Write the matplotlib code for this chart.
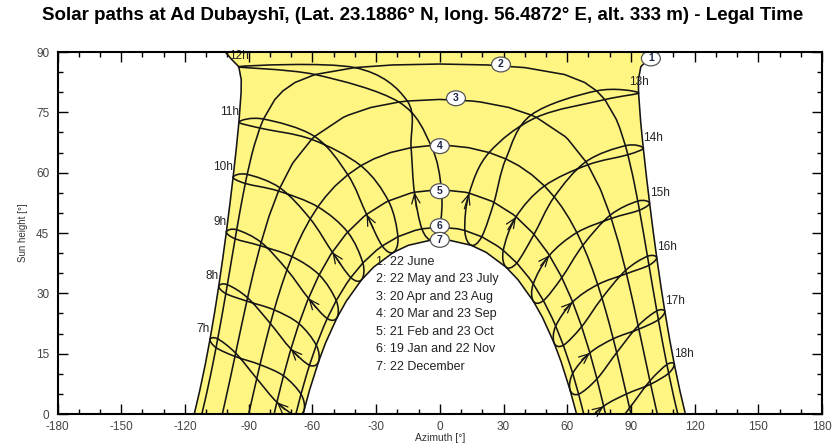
import numpy as np
import matplotlib.pyplot as plt
from matplotlib.patches import Ellipse, PathPatch
from matplotlib.path import Path
from matplotlib.ticker import MultipleLocator

plt.rcParams['font.family'] = ['Liberation Sans', 'DejaVu Sans']
plt.rcParams['axes.unicode_minus'] = False

title = "Solar paths at Ad Dubayshī, (Lat. 23.1886° N, long. 56.4872° E, alt. 333 m) - Legal Time"

legend_lines = ["1: 22 June", "2: 22 May and 23 July", "3: 20 Apr and 23 Aug",
                "4: 20 Mar and 23 Sep", "5: 21 Feb and 23 Oct", "6: 19 Jan and 22 Nov",
                "7: 22 December"]

# legal hours of the hour loops
hours = [7, 8, 9, 10, 11, 12, 13, 14, 15, 16, 17, 18]

# sun position (azimuth, height) at each legal hour for the twelve dates
dec_az = [-63.87, -57.09, -48.34, -36.83, -21.86, -3.86, 14.79, 31.15, 44.01, 53.82, 61.30, 67.2]
dec_alt = [1.02, 13.03, 24.02, 33.38, 40.18, 43.27, 41.95, 36.53, 28.08, 17.66, 6.02, -6.4]
jan_az = [-67.92, -61.37, -53.01, -41.91, -27.10, -8.44, 11.78, 29.88, 44.00, 54.57, 62.58, 68.9]
jan_alt = [-0.33, 12.14, 23.74, 33.93, 41.79, 46.04, 45.63, 40.68, 32.35, 21.87, 10.10, -2.48]
feb_az = [-76.71, -70.11, -61.84, -50.61, -34.49, -11.98, 13.85, 35.90, 51.59, 62.54, 70.65, 77.16]
feb_alt = [2.94, 16.16, 28.76, 40.24, 49.63, 55.14, 54.91, 49.03, 39.44, 27.85, 15.19, 1.94]
mar_az = [-86.19, -79.79, -71.96, -61.02, -43.33, -13.52, 23.22, 49.29, 64.54, 74.36, 81.66, 87.86]
mar_alt = [8.81, 22.49, 35.86, 48.52, 59.48, 66.22, 65.01, 56.70, 45.10, 32.18, 18.70, 4.97]
apr_az = [-96.13, -90.52, -84.12, -75.29, -58.95, -15.31, 45.46, 69.71, 80.74, 87.90, 93.73, 99.27]
apr_alt = [15.14, 28.90, 42.67, 56.23, 69.00, 77.81, 73.75, 61.95, 48.61, 34.89, 21.11, 7.42]
may_az = [-104.58, -100.04, -95.64, -90.71, -83.04, -40.08, 77.72, 88.55, 94.00, 98.49, 102.93, 107.76]
may_alt = [18.68, 32.15, 45.81, 59.57, 73.33, 86.12, 78.16, 64.46, 50.68, 36.98, 23.43, 10.14]
jun_az = [-108.22, -104.10, -100.51, -97.33, -94.59, -94.67, 93.58, 95.81, 98.79, 102.15, 105.96, 110.41]
jun_alt = [18.55, 31.79, 45.26, 58.89, 72.60, 86.36, 79.87, 66.12, 52.44, 38.89, 25.51, 12.41]
jul_az = [-105.36, -100.76, -96.37, -91.60, -84.75, -58.76, 73.85, 87.41, 93.22, 97.78, 102.19, 106.93]
jul_alt = [16.51, 29.94, 43.57, 57.32, 71.09, 84.40, 80.34, 66.71, 52.93, 39.21, 25.63, 12.29]
aug_az = [-96.46, -90.87, -84.55, -75.95, -60.37, -19.28, 42.97, 68.78, 80.23, 87.52, 93.40, 98.93]
aug_alt = [14.32, 28.07, 41.84, 55.43, 68.28, 77.56, 74.33, 62.72, 49.43, 35.72, 21.94, 8.23]
sep_az = [-84.66, -78.00, -69.60, -57.42, -37.20, -4.16, 31.09, 53.89, 67.36, 76.36, 83.29, 89.35]
sep_alt = [12.26, 25.89, 39.13, 51.50, 61.73, 66.75, 63.42, 53.98, 41.94, 28.83, 15.26, 1.51]
oct_az = [-73.61, -66.31, -56.79, -43.38, -24.18, 0.77, 25.50, 44.35, 57.44, 66.79, 73.99, 80.0]
oct_alt = [9.50, 22.46, 34.60, 45.21, 52.96, 55.82, 52.62, 44.65, 33.91, 21.72, 8.73, -4.71]
nov_az = [-65.37, -58.16, -48.78, -36.25, -19.74, 0.0, 19.74, 36.25, 48.78, 58.16, 65.37, 71.2]
nov_alt = [4.94, 17.10, 28.20, 37.55, 44.07, 46.46, 44.07, 37.55, 28.20, 17.10, 4.94, -7.87]

# daily sun paths 1..7 (azimuth, height), sunrise to sunset
p1_az = [-115.64, -113.11, -110.41, -108.22, -105.96, -104.10, -102.15, -100.51, -98.79, -97.33,
         -95.81, -94.59, -93.58, -93.5, -94.67, -98.06, -101.0, np.nan,
         101.0, 98.06, 94.67, 93.5, 93.58, 94.59, 95.81, 97.33,
         98.79, 100.51, 102.15, 104.10, 105.96, 108.22, 110.41, 113.11, 115.64]
p1_alt = [0.0, 5.65, 12.41, 18.55, 25.51, 31.79, 38.89, 45.26, 52.44, 58.89,
          66.12, 72.60, 79.87, 83.11, 86.36, 88.17, 90.0, np.nan,
          90.0, 88.17, 86.36, 83.11, 79.87, 72.60, 66.12, 58.89,
          52.44, 45.26, 38.89, 31.79, 25.51, 18.55, 12.41, 5.65, 0.0]
p2_az = [-112.06, -110.54, -109.64, -107.76, -106.93, -105.36, -104.58, -102.93, -102.19, -100.76,
         -100.04, -98.49, -97.78, -96.37, -95.64, -94.00, -93.22, -91.60, -90.71, -88.55,
         -87.41, -84.75, -83.04, -77.72, -73.85, -68.2, -58.76, -40.08, -22.24, 0.0,
         22.24, 40.08, 58.76, 68.2, 73.85, 77.72, 83.04, 84.75, 87.41, 88.55,
         90.71, 91.60, 93.22, 94.00, 95.64, 96.37, 97.78, 98.49, 100.04, 100.76,
         102.19, 102.93, 104.58, 105.36, 106.93, 107.76, 109.64, 110.54, 112.06]
p2_alt = [0.0, 3.39, 5.51, 10.14, 12.29, 16.51, 18.68, 23.43, 25.63, 29.94,
          32.15, 36.98, 39.21, 43.57, 45.81, 50.68, 52.93, 57.32, 59.57, 64.46,
          66.71, 71.09, 73.33, 78.16, 80.34, 82.42, 84.40, 86.12, 86.78, 87.01,
          86.78, 86.12, 84.40, 82.42, 80.34, 78.16, 73.33, 71.09, 66.71, 64.46,
          59.57, 57.32, 52.93, 50.68, 45.81, 43.57, 39.21, 36.98, 32.15, 29.94,
          25.63, 23.43, 18.68, 16.51, 12.29, 10.14, 5.51, 3.39, 0.0]
p3_az = [-102.42, -102.11, -101.75, -99.27, -98.93, -96.46, -96.13, -93.73, -93.40, -90.87,
         -90.52, -87.90, -87.52, -84.55, -84.12, -80.74, -80.23, -75.95, -75.29, -69.71,
         -68.78, -60.37, -58.95, -45.46, -42.97, -32.48, -19.28, -15.31, 0.0,
         15.31, 19.28, 32.48, 42.97, 45.46, 58.95, 60.37, 68.78, 69.71, 75.29,
         75.95, 80.23, 80.74, 84.12, 84.55, 87.52, 87.90, 90.52, 90.87, 93.40,
         93.73, 96.13, 96.46, 98.93, 99.27, 101.75, 102.11, 102.42]
p3_alt = [0.0, 0.72, 1.52, 7.42, 8.23, 14.32, 15.14, 21.11, 21.94, 28.07,
          28.90, 34.89, 35.72, 41.84, 42.67, 48.61, 49.43, 55.43, 56.23, 61.95,
          62.72, 68.28, 69.00, 73.75, 74.33, 76.21, 77.56, 77.81, 78.21,
          77.81, 77.56, 76.21, 74.33, 73.75, 69.00, 68.28, 62.72, 61.95, 56.23,
          55.43, 49.43, 48.61, 42.67, 41.84, 35.72, 34.89, 28.90, 28.07, 21.94,
          21.11, 15.14, 14.32, 8.23, 7.42, 1.52, 0.72, 0.0]
p4_az = [-90.0, -89.35, -87.86, -86.19, -84.66, -83.29, -81.66, -79.79, -78.00, -76.36,
         -74.36, -71.96, -69.60, -67.36, -64.54, -61.02, -57.42, -53.89, -49.29, -43.33,
         -37.20, -31.09, -23.22, -13.52, -4.16, 0.0, 4.16, 13.52, 23.22, 31.09,
         37.20, 43.33, 49.29, 53.89, 57.42, 61.02, 64.54, 67.36, 69.60, 71.96,
         74.36, 76.36, 78.00, 79.79, 81.66, 83.29, 84.66, 86.19, 87.86, 89.35, 90.0]
p4_alt = [0.0, 1.51, 4.97, 8.81, 12.26, 15.26, 18.70, 22.49, 25.89, 28.83,
          32.18, 35.86, 39.13, 41.94, 45.10, 48.52, 51.50, 53.98, 56.70, 59.48,
          61.73, 63.42, 65.01, 66.22, 66.75, 66.81, 66.75, 66.22, 65.01, 63.42,
          61.73, 59.48, 56.70, 53.98, 51.50, 48.52, 45.10, 41.94, 39.13, 35.86,
          32.18, 28.83, 25.89, 22.49, 18.70, 15.26, 12.26, 8.81, 4.97, 1.51, 0.0]
p5_az = [-78.02, -77.16, -76.71, -73.99, -73.61, -70.65, -70.11, -66.79, -66.31, -62.54,
         -61.84, -57.44, -56.79, -51.59, -50.61, -44.35, -43.38, -35.90, -34.49, -25.50,
         -24.18, -13.85, -11.98, 0.0, 11.98, 13.85, 24.18, 25.50, 34.49, 35.90,
         43.38, 44.35, 50.61, 51.59, 56.79, 57.44, 61.84, 62.54, 66.31, 66.79,
         70.11, 70.65, 73.61, 73.99, 76.71, 77.16, 78.02]
p5_alt = [0.0, 1.94, 2.94, 8.73, 9.50, 15.19, 16.16, 21.72, 22.46, 27.85,
          28.76, 33.91, 34.60, 39.44, 40.24, 44.65, 45.21, 49.03, 49.63, 52.62,
          52.96, 54.91, 55.14, 55.81, 55.14, 54.91, 52.96, 52.62, 49.63, 49.03,
          45.21, 44.65, 40.24, 39.44, 34.60, 33.91, 28.76, 27.85, 22.46, 21.72,
          16.16, 15.19, 9.50, 8.73, 2.94, 1.94, 0.0]
p6_az = [-67.77, -65.37, -62.58, -61.37, -58.16, -54.57, -53.01, -48.78, -44.00, -41.91,
         -36.25, -29.88, -27.10, -19.74, -11.78, -8.44, 0.0, 8.44, 11.78, 19.74,
         27.10, 29.88, 36.25, 41.91, 44.00, 48.78, 53.01, 54.57, 58.16, 61.37,
         62.58, 65.37, 67.77]
p6_alt = [0.0, 4.94, 10.10, 12.14, 17.10, 21.87, 23.74, 28.20, 32.35, 33.93,
          37.55, 40.68, 41.79, 44.07, 45.63, 46.04, 46.46, 46.04, 45.63, 44.07,
          41.79, 40.68, 37.55, 33.93, 32.35, 28.20, 23.74, 21.87, 17.10, 12.14,
          10.10, 4.94, 0.0]
p7_az = [-64.36, -63.87, -61.30, -57.09, -53.82, -48.34, -44.01, -36.83, -31.15, -21.86,
         -14.79, -3.86, 0.0, 3.86, 14.79, 21.86, 31.15, 36.83, 44.01, 48.34,
         53.82, 57.09, 61.30, 63.87, 64.36]
p7_alt = [0.0, 1.02, 6.02, 13.03, 17.66, 24.02, 28.08, 33.38, 36.53, 40.18,
          41.95, 43.27, 43.37, 43.27, 41.95, 40.18, 36.53, 33.38, 28.08, 24.02,
          17.66, 13.03, 6.02, 1.02, 0.0]

YELLOW = '#fff583'
INK = '#151515'
LW = 1.15


def smooth_loop(xs, ys):
    # closed curve through the monthly points (Catmull-Rom as cubic Bezier)
    pts = np.column_stack([xs, ys])
    n = len(pts)
    verts = [pts[0]]
    codes = [Path.MOVETO]
    for j in range(n):
        p0, p1, p2, p3 = pts[j - 1], pts[j], pts[(j + 1) % n], pts[(j + 2) % n]
        verts += [p1 + (p2 - p0) / 6, p2 - (p3 - p1) / 6, p2]
        codes += [Path.CURVE4] * 3
    return Path(verts, codes)


fig = plt.figure(figsize=(8.34, 4.46), dpi=100)
ax = fig.add_axes([0.069, 0.0717, 0.9167, 0.8117])

# yellow band between the June and December paths
a1 = np.array(p1_az)
h1 = np.array(p1_alt)
keep = ~np.isnan(a1)
band_az = np.concatenate([a1[keep], np.array(p7_az)[::-1]])
band_alt = np.concatenate([h1[keep], np.array(p7_alt)[::-1]])
ax.fill(band_az, band_alt, color=YELLOW, lw=0, zorder=1)

paths = [(p1_az, p1_alt), (p2_az, p2_alt), (p3_az, p3_alt), (p4_az, p4_alt),
         (p5_az, p5_alt), (p6_az, p6_alt), (p7_az, p7_alt)]
for az, alt in paths:
    ax.plot(az, alt, color=INK, lw=LW, zorder=3)

year = [(dec_az, dec_alt), (jan_az, jan_alt), (feb_az, feb_alt), (mar_az, mar_alt),
        (apr_az, apr_alt), (may_az, may_alt), (jun_az, jun_alt), (jul_az, jul_alt),
        (aug_az, aug_alt), (sep_az, sep_alt), (oct_az, oct_alt), (nov_az, nov_alt)]

for i, h in enumerate(hours):
    loop_az = [m[0][i] for m in year]
    loop_alt = [m[1][i] for m in year]
    ax.add_patch(PathPatch(smooth_loop(loop_az, loop_alt), fill=False,
                           edgecolor=INK, lw=LW, zorder=3))

    # direction arrow at the February point
    start = (feb_az[i] - 0.2 * (mar_az[i] - jan_az[i]),
             feb_alt[i] - 0.2 * (mar_alt[i] - jan_alt[i]))
    ax.annotate('', xy=(feb_az[i], feb_alt[i]), xytext=start,
                arrowprops=dict(arrowstyle='->,head_length=0.7,head_width=0.3',
                                color=INK, lw=0.9, shrinkA=0, shrinkB=0),
                zorder=4)

    if h <= 11:
        ha = 'right'
    elif h <= 13:
        ha = 'center'
    else:
        ha = 'left'
    ax.annotate(f"{h}h", xy=(jun_az[i], jun_alt[i]), xytext=(0, 7.5),
                textcoords='offset points', ha=ha, va='center',
                fontsize=8.5, color='#222222', zorder=5)

# circled path numbers
num_az = [99.4, 28.8, 7.6, 0.0, 0.0, 0.0, 0.0]
num_alt = [88.4, 86.9, 78.5, 66.6, 55.4, 46.7, 43.3]
for k, (x, y) in enumerate(zip(num_az, num_alt)):
    ax.add_patch(Ellipse((x, y), width=8.9, height=3.7, facecolor='white',
                         edgecolor='#555555', lw=0.9, zorder=6))
    ax.text(x, y, str(k + 1), ha='center', va='center', fontsize=7.5,
            fontweight='bold', color='#1e2748', zorder=7)

for k, line in enumerate(legend_lines):
    ax.text(-30, 37.9 - k * 4.35, line, ha='left', va='center', fontsize=9,
            color='#222222', zorder=5)

ax.set_xlim(-180, 180)
ax.set_ylim(0, 90)
ax.set_xticks(np.arange(-180, 181, 30))
ax.set_yticks(np.arange(0, 91, 15))
ax.xaxis.set_minor_locator(MultipleLocator(10))
ax.yaxis.set_minor_locator(MultipleLocator(5))
ax.tick_params(which='both', direction='in', top=True, right=True, color='black', width=1.0)
ax.tick_params(which='major', length=7, labelsize=8.5, labelcolor='#444444')
ax.tick_params(axis='x', which='major', pad=5)
ax.tick_params(axis='y', which='major', pad=6)
ax.tick_params(which='minor', length=3.5)
for s in ax.spines.values():
    s.set_linewidth(1.5)
    s.set_zorder(8)

ax.set_xlabel('Azimuth [°]', fontsize=7.5, color='#333333', labelpad=0)
ax.set_ylabel('Sun height [°]', fontsize=7, color='#333333', labelpad=6)

fig.text(0.507, 0.966, title, ha='center', va='center', fontsize=13.5, fontweight='bold')

fig.savefig('out.png', dpi=100)
